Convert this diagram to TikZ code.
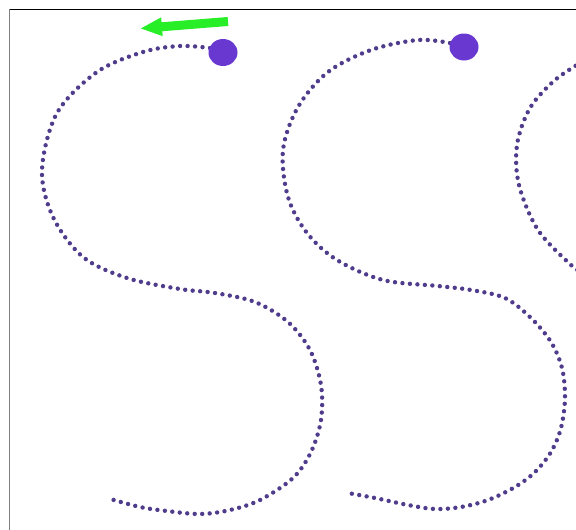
\documentclass[tikz,border=0pt]{standalone}
\usepackage{tikz}
\usetikzlibrary{shapes.geometric,arrows.meta}
\tikzset{>={Triangle[width=17pt,length=22pt]}}
\definecolor{tracepurple}{RGB}{80,60,140}
\definecolor{dotpurple}{RGB}{104,56,208}
\definecolor{arrowgreen}{RGB}{40,238,40}
\tikzset{
  trace/.style={draw=tracepurple,line width=4.4pt,line cap=round,dash pattern=on 0pt off 7.5pt},
  startdot/.style={shape=ellipse,fill=dotpurple,draw=none,minimum width=29pt,minimum height=27pt,inner sep=0pt},
  pointer/.style={->,draw=arrowgreen,line width=9pt}
}
\begin{document}
\begin{tikzpicture}[x=1pt,y=-1pt]
\useasboundingbox (0,0) rectangle (576,530);

% frame
\draw[line width=1.5pt] (9,9.5) -- (576,9.5);
\draw[gray,line width=1.2pt] (9.5,9) -- (9.5,530);

% first S
\draw[trace] plot[smooth,tension=0.55] coordinates {(210,48) (180,46) (143,52) (97,72) (57,113) (42,170) (53,217) (83,257) (127,278) (180,289) (215,293) (255,302) (288,322) (310,350) (321,385) (321,420) (311,452) (293,478) (260,500) (230,510) (200,514) (167,511) (140,507) (107,498)};
\path (223,52.5) node [startdot] (startA) {};

% second S
\draw[trace] plot[smooth,tension=0.55] coordinates {(450,43) (418,40) (371,50) (328,72) (298,107) (283,150) (288,197) (307,233) (337,260) (383,280) (438,286) (471,290) (505,298) (531,318) (551,342) (562,368) (565,398) (561,428) (551,452) (535,472) (515,487) (488,500) (461,507) (435,509) (408,505) (375,498) (348,493)};
\path (464,47) node [startdot] (startB) {};

% third S, cut at the edge
\draw[trace] plot[smooth,tension=0.55] coordinates {(582,62) (555,80) (530,108) (517,145) (519,185) (538,230) (571,265) (582,272)};

% direction
\coordinate (tail) at (228,21.5);
\coordinate (tip) at (140,28.5);
\draw[pointer] (tail) -- (tip);

\end{tikzpicture}
\end{document}
